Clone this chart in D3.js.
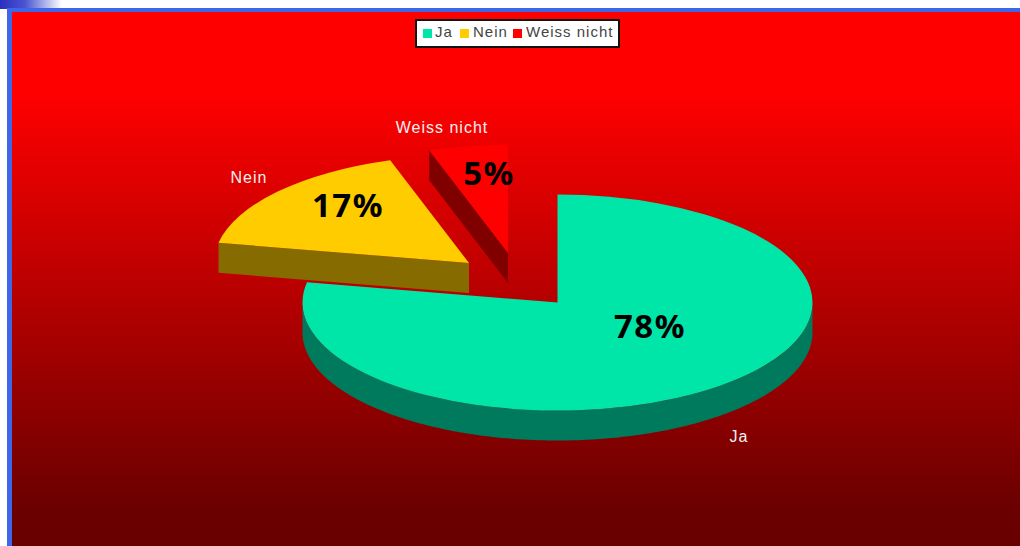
<!DOCTYPE html>
<html>
<head>
<meta charset="utf-8">
<script src="https://cdn.jsdelivr.net/npm/d3@7"></script>
<style>
html,body{margin:0;padding:0;background:#fff;overflow:hidden}
svg{display:block}
</style>
</head>
<body>
<svg id="chart" width="1020" height="546"></svg>
<script>
// Survey answers and their shares, in percent
const categories = ["Ja", "Nein", "Weiss nicht"];
const shares = [78, 17, 5];
const topColors = ["#00e6a9", "#ffcc00", "#ff0000"];
const sideColors = ["#007a5c", "#866b00", "#800000"];

const width = 1020, height = 546;
const rx = 255, ry = 108, depth = 30;
const centre = [557.5, 302.5];
// Each slice's apex relative to the pie centre
const explodeX = [0, -88.5, -49.5];
const explodeY = [0, -39.5, -49.5];
const pctAnchorX = [650, 348, 489];
const pctAnchorY = [338, 217, 185];
const nameAnchorX = [739, 249, 442];
const nameAnchorY = [442, 183, 133];

const svg = d3.select("#chart");
const defs = svg.append("defs");

const bg = defs.append("linearGradient").attr("id", "wall")
  .attr("x1", 0).attr("y1", 0).attr("x2", 0).attr("y2", 1);
bg.append("stop").attr("offset", "0%").attr("stop-color", "#ff0000");
bg.append("stop").attr("offset", "15%").attr("stop-color", "#ff0000");
bg.append("stop").attr("offset", "92%").attr("stop-color", "#6c0000");
bg.append("stop").attr("offset", "100%").attr("stop-color", "#680000");

const corner = defs.append("linearGradient").attr("id", "cornerFade")
  .attr("x1", 0).attr("y1", 0).attr("x2", 1).attr("y2", 0);
corner.append("stop").attr("offset", "0%").attr("stop-color", "#2a2fc0");
corner.append("stop").attr("offset", "40%").attr("stop-color", "#4a55d0");
corner.append("stop").attr("offset", "100%").attr("stop-color", "#ffffff");

// Page frame
svg.append("rect").attr("width", 62).attr("height", 9).attr("fill", "url(#cornerFade)");
svg.append("rect").attr("x", 7).attr("y", 8).attr("width", width - 7).attr("height", height - 8).attr("fill", "#3d66e8");
svg.append("rect").attr("x", 12).attr("y", 12).attr("width", width - 12).attr("height", height - 12).attr("fill", "url(#wall)");

const pie = d3.pie().sort(null).value(d => d)(shares);
const arcTop = d3.arc().innerRadius(0).outerRadius(rx);
const squash = ry / rx;

function rimPoint(a) {
  return [rx * Math.sin(a), -ry * Math.cos(a)];
}
const line = d3.line();

// Draw order: the big slice first, then the pulled-out wedges over it
pie.forEach((s, i) => {
  const g = svg.append("g")
    .attr("transform", `translate(${centre[0] + explodeX[i]},${centre[1] + explodeY[i]})`);

  const sides = [];
  // Outer wall: only the part of the rim facing the viewer
  const a0 = Math.max(s.startAngle, Math.PI / 2);
  const a1 = Math.min(s.endAngle, Math.PI * 1.5);
  if (a1 > a0) {
    const rim = d3.range(a0, a1, 0.01).concat([a1]).map(rimPoint);
    sides.push(rim.concat(rim.slice().reverse().map(p => [p[0], p[1] + depth])));
  }
  // Cut faces that turn towards the viewer
  const start = rimPoint(s.startAngle);
  if (s.startAngle > Math.PI) {
    sides.push([[0, 0], start, [start[0], start[1] + depth], [0, depth]]);
  }
  sides.forEach(pts => {
    g.append("path").attr("d", line(pts) + "Z").attr("fill", sideColors[i]);
  });

  g.append("path")
    .attr("transform", `scale(1,${squash})`)
    .attr("d", arcTop(s))
    .attr("fill", topColors[i]);
});

// Percent labels
svg.selectAll("text.pct").data(shares).join("text")
  .attr("class", "pct")
  .attr("x", (d, i) => pctAnchorX[i])
  .attr("y", (d, i) => pctAnchorY[i])
  .attr("text-anchor", "middle")
  .attr("font-family", "'Noto Sans', sans-serif")
  .attr("font-weight", "bold")
  .attr("font-size", 33)
  .attr("letter-spacing", 1.5)
  .attr("fill", "#000")
  .text(d => d + "%");

// Category labels
svg.selectAll("text.name").data(categories).join("text")
  .attr("class", "name")
  .attr("x", (d, i) => nameAnchorX[i])
  .attr("y", (d, i) => nameAnchorY[i])
  .attr("text-anchor", "middle")
  .attr("font-family", "'Liberation Sans', sans-serif")
  .attr("font-size", 16)
  .attr("letter-spacing", 1)
  .attr("fill", "#f4f0f0")
  .text(d => d);

// Legend
const legend = svg.append("g");
legend.append("rect")
  .attr("x", 416).attr("y", 20).attr("width", 203).attr("height", 27)
  .attr("fill", "#fff").attr("stroke", "#111").attr("stroke-width", 2);
const swatchX = [423, 460, 513];
const textX = [435, 473, 526];
categories.forEach((c, i) => {
  legend.append("rect")
    .attr("x", swatchX[i]).attr("y", 29).attr("width", 9).attr("height", 9)
    .attr("fill", topColors[i]);
  legend.append("text")
    .attr("x", textX[i]).attr("y", 37)
    .attr("font-family", "'Liberation Sans', sans-serif")
    .attr("font-size", 15)
    .attr("letter-spacing", 1)
    .attr("fill", "#444")
    .text(c);
});
</script>
</body>
</html>
